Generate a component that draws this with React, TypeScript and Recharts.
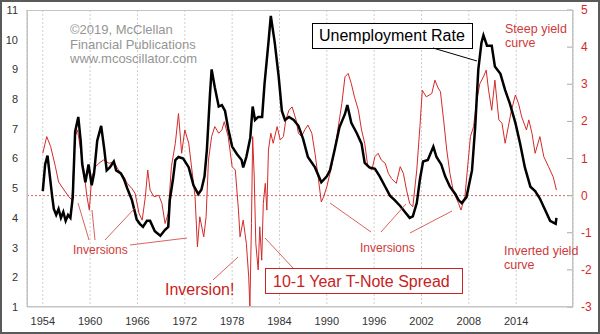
import {
  ComposedChart,
  Line,
  XAxis,
  YAxis,
  CartesianGrid,
  ReferenceLine,
} from "recharts";

// ─── Data ────────────────────────────────────────────────────────────────────

const unempYears = [
  1954.0, 1954.3, 1954.6, 1954.9, 1955.2, 1955.4, 1955.7, 1956.0, 1956.3, 1956.6,
  1956.9, 1957.2, 1957.5, 1957.8, 1958.1, 1958.5, 1958.8, 1959.0, 1959.4, 1959.8,
  1960.2, 1960.5, 1960.9, 1961.4, 1961.8, 1962.1, 1962.5, 1963.0, 1963.3, 1963.9,
  1964.3, 1964.7, 1965.3, 1965.9, 1966.3, 1966.7, 1967.2, 1967.6, 1968.2, 1968.9,
  1969.5, 1969.9, 1970.1, 1970.5, 1970.8, 1971.2, 1971.8, 1972.5, 1973.1, 1973.7,
  1974.1, 1974.5, 1974.8, 1975.2, 1975.4, 1975.8, 1976.3, 1976.7, 1977.1, 1977.5,
  1978.0, 1978.6, 1979.2, 1979.4, 1979.8, 1980.3, 1980.6, 1980.9, 1981.3, 1981.8,
  1982.1, 1982.6, 1982.9, 1983.4, 1983.9, 1984.3, 1984.7, 1985.2, 1985.8, 1986.4,
  1987.0, 1987.6, 1988.5, 1989.3, 1990.0, 1990.4, 1991.0, 1991.6, 1992.3, 1992.6,
  1993.1, 1993.8, 1994.4, 1994.8, 1995.4, 1996.1, 1996.7, 1997.4, 1998.0, 1998.6,
  1999.3, 1999.9, 2000.5, 2000.9, 2001.4, 2001.8, 2002.2, 2002.8, 2003.5, 2003.9,
  2004.5, 2005.0, 2005.6, 2006.3, 2006.7, 2007.1, 2007.7, 2008.4, 2008.8, 2009.2,
  2009.6, 2009.85, 2010.3, 2010.9, 2011.3, 2012.0, 2012.6, 2013.2, 2013.9, 2014.5,
  2015.1, 2015.8, 2016.4, 2017.0, 2017.7, 2018.3, 2019.0, 2019.1,
];
const unempValues = [
  4.9, 5.8, 6.1, 5.4, 4.7, 4.3, 4.1, 4.3, 4.0, 4.2,
  3.9, 4.1, 4.0, 4.7, 6.9, 7.4, 6.6, 5.8, 5.2, 5.8,
  5.1, 5.5, 6.6, 7.1, 6.3, 5.6, 5.7, 5.9, 5.6, 5.5,
  5.3, 5.0, 4.6, 3.95, 3.8, 3.7, 3.9, 3.9, 3.55, 3.4,
  3.6, 3.7, 4.6, 5.3, 5.95, 6.05, 6.0, 5.7, 5.1, 4.8,
  4.95, 5.4, 6.3, 8.2, 9.0, 8.4, 7.75, 7.8, 7.6, 7.0,
  6.4, 6.15, 5.95, 5.7, 6.05, 6.7, 7.75, 7.3, 7.4, 7.4,
  8.5, 9.9, 10.8, 9.9, 8.75, 7.6, 7.3, 7.4, 7.3, 7.1,
  6.65, 6.05, 5.7, 5.2, 5.4, 5.6, 6.3, 7.05, 7.5, 7.8,
  7.2, 6.85, 6.5, 5.85, 5.7, 5.65, 5.4, 5.05, 4.75, 4.6,
  4.4, 4.2, 4.0, 4.05, 4.5, 5.3, 5.9, 5.95, 6.4, 6.05,
  5.8, 5.4, 5.05, 4.8, 4.6, 4.5, 4.7, 5.6, 7.05, 9.0,
  9.9, 10.15, 9.8, 9.8, 9.1, 8.85, 8.3, 7.85, 7.2, 6.5,
  5.7, 5.05, 4.9, 4.65, 4.25, 3.9, 3.8, 4.0,
];

const spreadYears = [
  1954.0, 1954.5, 1955.0, 1955.6, 1956.0, 1956.7, 1957.3, 1957.7, 1958.1, 1958.4,
  1958.8, 1959.2, 1959.6, 1959.9, 1960.2, 1960.7, 1961.1, 1961.7, 1962.4, 1963.0,
  1963.6, 1964.3, 1964.7, 1965.3, 1965.7, 1966.2, 1966.6, 1967.0, 1967.3, 1967.6,
  1968.1, 1968.7, 1969.1, 1969.5, 1969.9, 1970.3, 1970.8, 1971.2, 1971.6, 1972.0,
  1972.5, 1972.9, 1973.3, 1973.6, 1973.9, 1974.4, 1974.7, 1975.0, 1975.4, 1975.8,
  1976.3, 1976.7, 1977.0, 1977.5, 1978.0, 1978.4, 1978.8, 1979.0, 1979.4, 1979.8,
  1980.1, 1980.25, 1980.45, 1980.6, 1980.8, 1981.0, 1981.3, 1981.5, 1981.75, 1981.95,
  1982.2, 1982.4, 1982.6, 1982.9, 1983.2, 1983.7, 1984.1, 1984.5, 1984.8, 1985.2,
  1985.6, 1986.1, 1986.4, 1986.8, 1987.2, 1987.6, 1988.1, 1988.5, 1988.9, 1989.3,
  1989.6, 1990.0, 1990.6, 1991.2, 1991.9, 1992.3, 1992.7, 1993.1, 1993.5, 1994.0,
  1994.4, 1994.8, 1995.2, 1995.7, 1996.1, 1996.5, 1996.9, 1997.4, 1997.8, 1998.2,
  1998.8, 1999.3, 1999.7, 2000.1, 2000.5, 2000.9, 2001.4, 2001.8, 2002.1, 2002.6,
  2003.3, 2003.7, 2004.1, 2004.4, 2004.8, 2005.2, 2005.6, 2006.05, 2006.7, 2007.0,
  2007.5, 2008.2, 2008.6, 2009.0, 2009.4, 2009.85, 2010.2, 2010.5, 2010.9, 2011.3,
  2011.8, 2012.2, 2012.6, 2013.0, 2013.4, 2013.9, 2014.3, 2014.7, 2015.3, 2015.6,
  2016.0, 2016.4, 2017.0, 2017.5, 2018.1, 2018.7, 2019.1,
];
const spreadValues = [
  1.14, 1.59, 1.32, 0.78, 0.37, 0.15, -0.03, -0.12, 1.59, 1.77,
  1.23, 0.69, -0.03, -0.39, 0.5, 0.78, 0.87, 0.96, 0.87, 0.91,
  0.69, 0.5, 0.33, 0.19, 0.06, -0.48, -0.66, -0.03, 0.69, 0.15,
  -0.03, 0.01, -0.21, -0.75, -0.48, 0.78, 1.41, 2.21, 1.14, 1.77,
  1.41, 0.69, -0.03, -1.38, -0.57, -1.11, -0.57, 0.96, 1.59, 1.86,
  1.68, 1.77, 1.99, 1.59, 0.78, 0.69, -0.39, -1.11, -0.66, -1.29,
  -2.19, -3.0, -0.75, 1.59, 0.5, -1.29, -2.0, -0.84, -1.74, -0.21,
  0.33, -0.39, 1.23, 1.68, 1.41, 1.86, 1.5, 1.59, 2.04, 2.3,
  2.39, 2.04, 1.68, 1.59, 1.77, 1.9, 1.68, 1.14, 0.5, -0.17,
  -0.03, 0.24, 0.78, 1.5, 2.48, 3.2, 3.29, 3.02, 2.66, 2.3,
  1.77, 1.41, 0.78, 0.69, 1.05, 1.14, 0.96, 0.87, 0.6, 0.46,
  0.33, 0.78, 0.6, 0.15, -0.21, -0.3, 0.69, 1.86, 2.84, 2.66,
  2.75, 3.11, 2.9, 2.8, 2.04, 1.23, 0.6, 0.1, -0.21, -0.39,
  -0.03, 1.59, 1.86, 2.57, 3.02, 3.2, 3.38, 2.84, 2.3, 3.11,
  2.04, 1.95, 1.41, 1.86, 2.3, 2.71, 2.48, 2.12, 1.77, 2.04,
  1.68, 1.14, 1.59, 1.05, 0.78, 0.5, 0.15,
];

const yearTicks = [1954, 1960, 1966, 1972, 1978, 1984, 1990, 1996, 2002, 2008, 2014];
const unempTicks = [1, 2, 3, 4, 5, 6, 7, 8, 9, 10, 11];
const spreadTicks = [-3, -2, -1, 0, 1, 2, 3, 4, 5];

// merged table for the chart, each series keeps its own sample dates
const rows = [
  ...unempYears.map((year, i) => ({ year, unemp: unempValues[i] })),
  ...spreadYears.map((year, i) => ({ year, spread: spreadValues[i] })),
].sort((a, b) => a.year - b.year);

// ─── Styling ─────────────────────────────────────────────────────────────────

const FONT = "Arial, 'Liberation Sans', sans-serif";
const RED = "#d42a2a";
const NOTE_RED = "#d03a3a";
const FRAME = "#c4c4c4";

function RightTick(props: any) {
  const { x, y, payload } = props;
  const axisX = x - 8;
  return (
    <g>
      <line x1={axisX - 6} x2={axisX} y1={y} y2={y} stroke="#aaa" />
      <text x={x} y={y} dy={4} fill={RED} fontSize={12} fontFamily={FONT}>
        {payload.value}
      </text>
    </g>
  );
}

// ─── Annotations ─────────────────────────────────────────────────────────────

function Notes() {
  return (
    <svg
      width={600}
      height={334}
      style={{ position: "absolute", left: 0, top: 0, pointerEvents: "none" }}
      fontFamily={FONT}
    >
      <rect x={27.5} y={10.5} width={545} height={296} fill="none" stroke={FRAME} />

      <g fill="#959595" fontSize={13}>
        <text x={70} y={34}>©2019, McClellan</text>
        <text x={70} y={48.5}>Financial Publications</text>
        <text x={70} y={63}>www.mcoscillator.com</text>
      </g>

      <rect x={312.5} y={23.5} width={160} height={25} fill="#fff" stroke="#000" />
      <text x={319} y={41} fontSize={16} fill="#000">Unemployment Rate</text>
      <line x1={433} y1={48} x2={477} y2={61} stroke="#000" />

      <g fill={NOTE_RED} fontSize={12.5}>
        <text x={505} y={33}>Steep yield</text>
        <text x={505} y={47}>curve</text>
        <text x={504} y={255}>Inverted yield</text>
        <text x={504} y={269}>curve</text>
      </g>

      <g stroke={NOTE_RED} strokeWidth={0.8}>
        <line x1={89} y1={240} x2={78} y2={203} />
        <line x1={95} y1={240} x2={92} y2={210} />
        <line x1={105} y1={240} x2={135} y2={208} />
        <line x1={130} y1={245} x2={187} y2={238} />
        <line x1={213} y1={280} x2={238} y2={257} />
        <line x1={293} y1={268} x2={265} y2={238} />
        <line x1={371} y1={232} x2={330} y2={203} />
        <line x1={381} y1={232} x2={406} y2={204} />
        <line x1={410} y1={233} x2={452} y2={211} />
      </g>
      <g fill={NOTE_RED} fontSize={12}>
        <text x={73} y={254}>Inversions</text>
        <text x={360} y={251.5}>Inversions</text>
      </g>
      <text x={165} y={295} fontSize={16} fill="#c82222">Inversion!</text>

      <rect x={265.5} y={268.5} width={197} height={25} fill="#fff" stroke="#c82222" />
      <text x={273} y={287} fontSize={16} fill="#c82222">10-1 Year T-Note Spread</text>
    </svg>
  );
}

// ─── Main component ──────────────────────────────────────────────────────────

export default function App() {
  return (
    <div
      style={{
        position: "absolute",
        left: 0,
        top: 0,
        width: 600,
        height: 334,
        background: "#fff",
      }}
    >
      <ComposedChart
        width={600}
        height={334}
        data={rows}
        margin={{ top: 10, right: 0, bottom: 0, left: 0 }}
        style={{ position: "absolute", left: 0, top: 0 }}
      >
        <CartesianGrid
          horizontal={false}
          stroke="#cfcfcf"
          strokeDasharray="2 2"
          yAxisId="left"
        />
        <XAxis
          dataKey="year"
          type="number"
          domain={[1952, 2021.2]}
          ticks={yearTicks}
          height={27}
          tickSize={0}
          tickMargin={10}
          axisLine={{ stroke: FRAME }}
          tick={{ fontSize: 11, fill: "#333", fontFamily: FONT }}
        />
        <YAxis
          yAxisId="left"
          domain={[1, 11]}
          ticks={unempTicks}
          width={27}
          tickSize={0}
          tickMargin={9}
          axisLine={{ stroke: FRAME }}
          tick={{ fontSize: 11, fill: "#333", fontFamily: FONT }}
          interval={0}
        />
        <YAxis
          yAxisId="right"
          orientation="right"
          domain={[-3, 5]}
          ticks={spreadTicks}
          width={27}
          tickSize={0}
          tickMargin={8}
          axisLine={{ stroke: FRAME }}
          tick={<RightTick />}
          interval={0}
        />
        <ReferenceLine
          yAxisId="right"
          y={0}
          stroke="#e06060"
          strokeDasharray="2 2"
        />
        <Line
          yAxisId="right"
          dataKey="spread"
          stroke={RED}
          strokeWidth={1}
          dot={false}
          connectNulls
          isAnimationActive={false}
        />
        <Line
          yAxisId="left"
          dataKey="unemp"
          stroke="#000"
          strokeWidth={2.5}
          dot={false}
          connectNulls
          isAnimationActive={false}
        />
      </ComposedChart>
      <Notes />
      <div
        style={{
          position: "absolute",
          left: 0,
          top: 0,
          width: 600,
          height: 334,
          boxSizing: "border-box",
          border: "2px solid #5a5a5a",
          pointerEvents: "none",
        }}
      />
    </div>
  );
}
